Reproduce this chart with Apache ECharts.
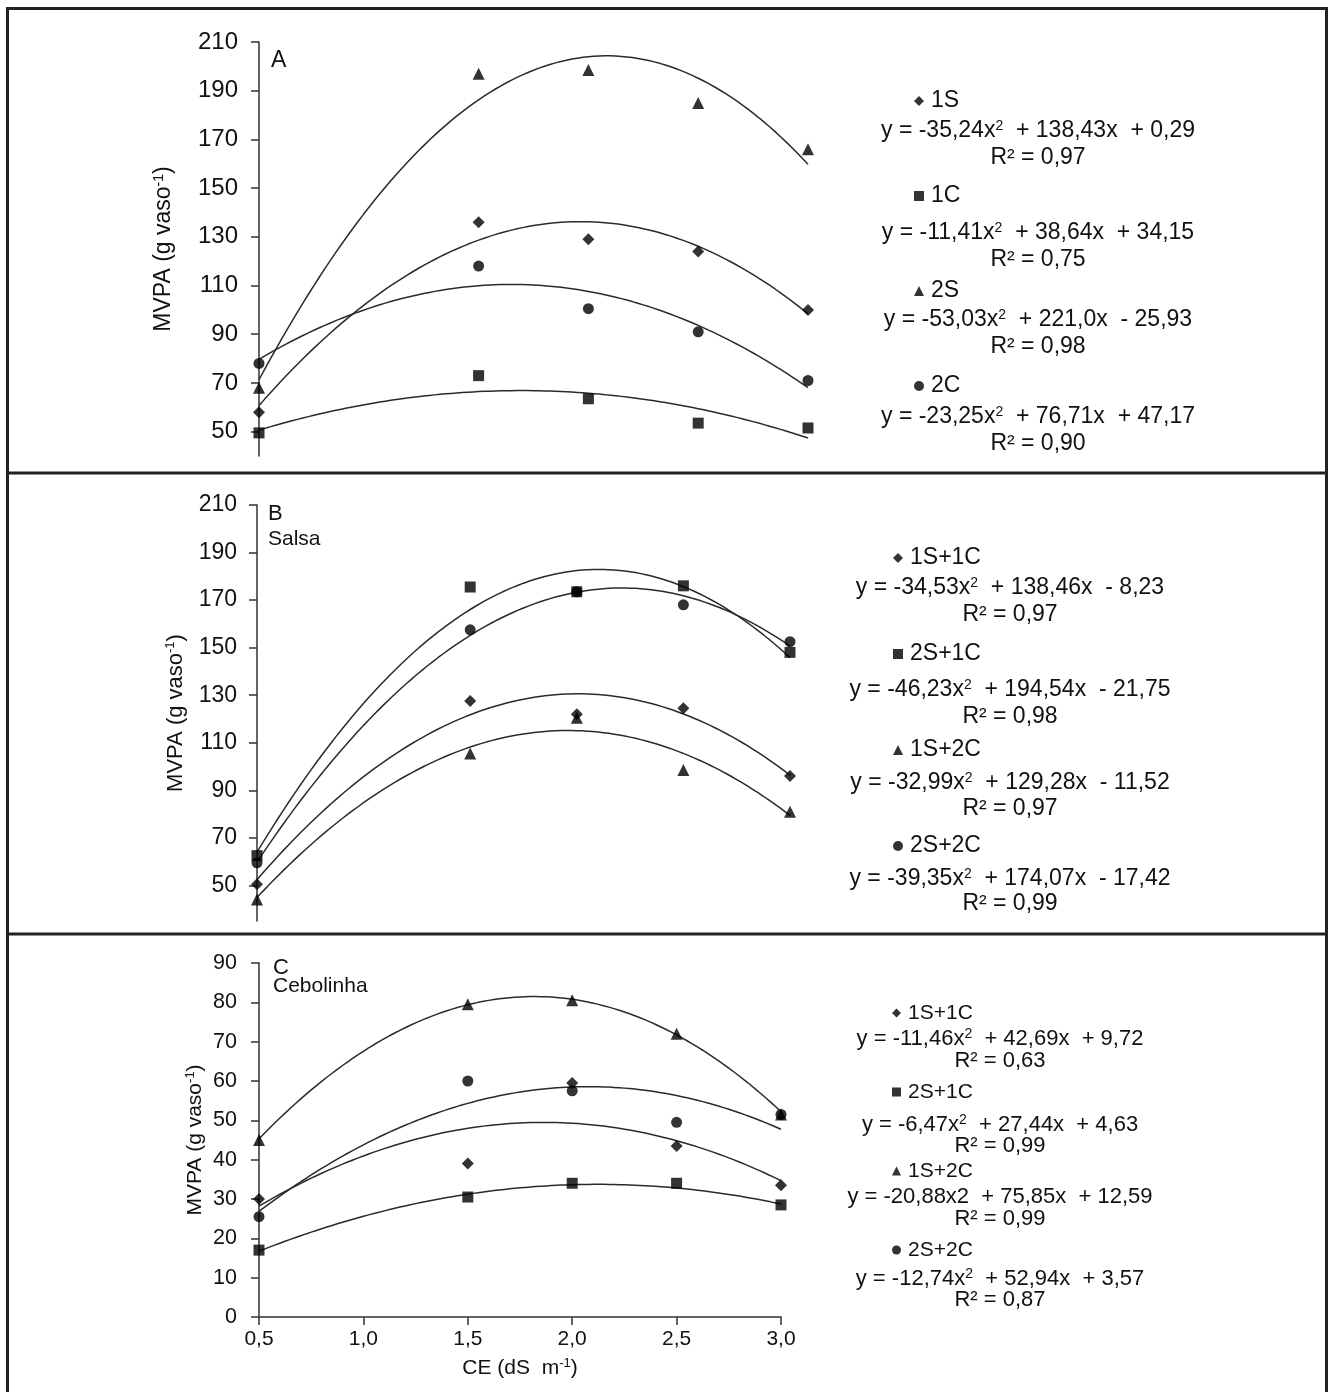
<!DOCTYPE html>
<html><head><meta charset="utf-8">
<script src="https://cdn.jsdelivr.net/npm/echarts@6/dist/echarts.min.js"></script>
<style>html,body{margin:0;padding:0;background:#fff}#c{width:1333px;height:1392px}</style>
</head><body><div id="c"></div><script>
// ---------- DATA ----------
const xValues = [0.5, 1.5, 2.0, 2.5, 3.0];
const xTickLabels = ['0,5', '1,0', '1,5', '2,0', '2,5', '3,0'];

// Panel A
const namesA = ['1S', '1C', '2S', '2C'];
const a1S = [58, 136, 129, 124, 100];
const a1C = [49.5, 73, 63.5, 53.5, 51.5];
const a2S = [68, 197, 198.5, 185, 166];
const a2C = [78, 118, 100.5, 91, 71];
const fitA1S = [-35.24, 138.43, 0.29];
const fitA1C = [-11.41, 38.64, 34.15];
const fitA2S = [-53.03, 221.0, -25.93];
const fitA2C = [-23.25, 76.71, 47.17];
const eqA = ['y = -35,24x^  + 138,43x  + 0,29', 'y = -11,41x^  + 38,64x  + 34,15', 'y = -53,03x^  + 221,0x  - 25,93', 'y = -23,25x^  + 76,71x  + 47,17'];
const r2A = ['R² = 0,97', 'R² = 0,75', 'R² = 0,98', 'R² = 0,90'];
const yTicksA = [50, 70, 90, 110, 130, 150, 170, 190, 210];

// Panel B (Salsa)
const namesB = ['1S+1C', '2S+1C', '1S+2C', '2S+2C'];
const b1S1C = [50.5, 127.5, 122, 124.5, 96];
const b2S1C = [62.5, 175.5, 173.5, 176, 148];
const b1S2C = [44, 105.5, 120.5, 98.5, 81];
const b2S2C = [59.5, 157.5, 173.5, 168, 152.5];
const fitB1S1C = [-34.53, 138.46, -8.23];
const fitB2S1C = [-46.23, 194.54, -21.75];
const fitB1S2C = [-32.99, 129.28, -11.52];
const fitB2S2C = [-39.35, 174.07, -17.42];
const eqB = ['y = -34,53x^  + 138,46x  - 8,23', 'y = -46,23x^  + 194,54x  - 21,75', 'y = -32,99x^  + 129,28x  - 11,52', 'y = -39,35x^  + 174,07x  - 17,42'];
const r2B = ['R² = 0,97', 'R² = 0,98', 'R² = 0,97', 'R² = 0,99'];
const yTicksB = [50, 70, 90, 110, 130, 150, 170, 190, 210];

// Panel C (Cebolinha)
const namesC = ['1S+1C ', '2S+1C ', '1S+2C ', '2S+2C '];
const c1S1C = [30, 39, 59.5, 43.5, 33.5];
const c2S1C = [17, 30.5, 34, 34, 28.5];
const c1S2C = [45, 79.5, 80.5, 72, 51.5];
const c2S2C = [25.5, 60, 57.5, 49.5, 51.5];
const fitC1S1C = [-11.46, 42.69, 9.72];
const fitC2S1C = [-6.47, 27.44, 4.63];
const fitC1S2C = [-20.88, 75.85, 12.59];
const fitC2S2C = [-12.74, 52.94, 3.57];
const eqC = ['y = -11,46x^  + 42,69x  + 9,72', 'y = -6,47x^  + 27,44x  + 4,63', 'y = -20,88x2  + 75,85x  + 12,59', 'y = -12,74x^  + 52,94x  + 3,57'];
const r2C = ['R² = 0,63', 'R² = 0,99', 'R² = 0,99', 'R² = 0,87'];

// ---------- CHART ----------
const FF = '"Liberation Sans", Arial, sans-serif';
const symbols = ['diamond', 'rect', 'triangle', 'circle'];
const symSizes = [12, 11, 12, 11];

// trend line drawn from the printed regression coefficients
function fitCurve(c) {
  const pts = [];
  for (let i = 0; i <= 100; i++) {
    const x = 0.5 + i * 0.025;
    pts.push([x, c[0] * x * x + c[1] * x + c[2]]);
  }
  return pts;
}

const series = [];
function addPanel(gi, names, vals, fits) {
  fits.forEach((f, i) => {
    series.push({
      type: 'line', xAxisIndex: gi, yAxisIndex: gi, data: fitCurve(f),
      showSymbol: false, symbol: 'none', smooth: false, silent: true, z: 2,
      lineStyle: { color: '#2a2a2a', width: 1.5 }, name: 'fit' + gi + '_' + i
    });
  });
  vals.forEach((v, i) => {
    series.push({
      type: 'scatter', name: names[i], xAxisIndex: gi, yAxisIndex: gi,
      data: v.map((y, k) => [xValues[k], y]), symbol: symbols[i], symbolSize: symSizes[i],
      itemStyle: { color: '#000' }, z: 5, clip: false
    });
  });
}
addPanel(0, namesA, [a1S, a1C, a2S, a2C], [fitA1S, fitA1C, fitA2S, fitA2C]);
addPanel(1, namesB, [b1S1C, b2S1C, b1S2C, b2S2C], [fitB1S1C, fitB2S1C, fitB1S2C, fitB2S2C]);
addPanel(2, namesC, [c1S1C, c2S1C, c1S2C, c2S2C], [fitC1S1C, fitC2S1C, fitC1S2C, fitC2S2C]);

function yAxis(gi, min, max, ticks, fs, gap, nfs, margin) {
  const ax = {
    type: 'value', gridIndex: gi, min: min, max: max,
    name: '{n|MVPA (g vaso}{s|-1}{n|)}', nameLocation: 'middle', nameGap: gap, nameRotate: 90,
    nameTextStyle: { rich: { n: { fontSize: nfs, fontFamily: FF, color: '#111' }, s: { fontSize: Math.round(nfs * 0.6), fontFamily: FF, color: '#111', padding: [0, 0, 10, 0] } } },
    axisLine: { show: true, onZero: false, lineStyle: { color: '#333', width: 1.5 } },
    axisTick: { show: true, length: 8, lineStyle: { color: '#333', width: 1.5 } },
    axisLabel: { fontSize: fs, fontFamily: FF, color: '#111', margin: margin },
    splitLine: { show: false }
  };
  if (ticks) {
    ax.axisTick.customValues = ticks;
    ax.axisLabel.customValues = ticks;
  } else {
    ax.interval = 10;
  }
  return ax;
}
function hiddenX(gi) {
  return { type: 'value', gridIndex: gi, min: 0.5, max: 3.0, show: true,
    axisLine: { show: false }, axisTick: { show: false }, axisLabel: { show: false }, splitLine: { show: false } };
}

function legend(names, left, top, fs, lh, gap, size) {
  return {
    data: names, orient: 'vertical', left: left, top: top, padding: 0,
    itemWidth: size, itemHeight: size, itemGap: gap, selectedMode: false,
    textStyle: { fontSize: fs, fontFamily: FF, color: '#111', lineHeight: lh, padding: [0, 0, 0, 2] }
  };
}

// equation text; '^' marks a superscript 2
function texts(list, cx, ys, fs) {
  return list.map((t, i) => {
    const parts = t.split('^');
    const rt = parts.map(p => '{n|' + p + '}').join('{s|2}');
    return {
      type: 'text', x: cx, y: ys[i], z: 10,
      style: {
        text: rt, fill: '#111', align: 'center', verticalAlign: 'middle', textAlign: 'center', textVerticalAlign: 'middle',
        rich: {
          n: { fontSize: fs, fontFamily: FF, fill: '#111', color: '#111' },
          s: { fontSize: Math.round(fs * 0.62), fontFamily: FF, fill: '#111', color: '#111', padding: [0, 0, Math.round(fs * 0.42), 0] }
        }
      }
    };
  });
}
function label(t, x, y, fs) {
  return { type: 'text', x: x, y: y, z: 10,
    style: { text: t, fontSize: fs, fontFamily: FF, fill: '#111', align: 'left', verticalAlign: 'middle', textAlign: 'left', textVerticalAlign: 'middle' } };
}

const graphic = [
  { type: 'rect', z: 20, shape: { x: 7.5, y: 8.5, width: 1319, height: 1400 }, style: { fill: 'none', stroke: '#222', lineWidth: 3 } },
  { type: 'line', z: 20, shape: { x1: 7, y1: 473, x2: 1327, y2: 473 }, style: { stroke: '#222', lineWidth: 3 } },
  { type: 'line', z: 20, shape: { x1: 7, y1: 934, x2: 1327, y2: 934 }, style: { stroke: '#222', lineWidth: 3 } },
  label('A', 271, 61, 23),
  label('B', 268, 514, 22),
  label('Salsa', 268, 539, 21),
  label('C', 273, 968, 22),
  label('Cebolinha', 273, 986, 21),
  ...texts(eqA, 1038, [131, 233, 320, 417], 23),
  ...texts(r2A, 1038, [158, 260, 347, 444], 23),
  ...texts(eqB, 1010, [588, 690, 783, 879], 23),
  ...texts(r2B, 1010, [615, 717, 809, 904], 23),
  ...texts(eqC, 1000, [1039, 1125, 1197, 1279], 22),
  ...texts(r2C, 1000, [1061, 1146, 1219, 1300], 22)
];

const option = {
  backgroundColor: '#fff',
  animation: false,
  grid: [
    { left: 259, top: 42, width: 549, height: 414 },
    { left: 257, top: 505, width: 533, height: 416 },
    { left: 259, top: 963, width: 522, height: 354 }
  ],
  xAxis: [
    hiddenX(0),
    hiddenX(1),
    { type: 'value', gridIndex: 2, min: 0.5, max: 3.0, interval: 0.5,
      name: '{n|CE (dS  m}{s|-1}{n|)}', nameLocation: 'middle', nameGap: 40,
      nameTextStyle: { rich: { n: { fontSize: 21, fontFamily: FF, color: '#111' }, s: { fontSize: 13, fontFamily: FF, color: '#111', padding: [0, 0, 10, 0] } } },
      axisLine: { show: true, onZero: false, lineStyle: { color: '#333', width: 1.5 } },
      axisTick: { show: true, length: 8, lineStyle: { color: '#333', width: 1.5 } },
      axisLabel: { fontSize: 21, fontFamily: FF, color: '#111', margin: 12,
        formatter: v => xTickLabels[Math.round((v - 0.5) / 0.5)] },
      splitLine: { show: false } }
  ],
  yAxis: [
    yAxis(0, 40, 210, yTicksA, 24, 83, 23, 21),
    yAxis(1, 35, 210, yTicksB, 23, 70, 22, 20),
    yAxis(2, 0, 90, null, 21.5, 52, 21, 22)
  ],
  legend: [
    legend(namesA, 914, 89, 23, 24, 71, 10),
    legend(namesB, 893, 546, 23, 24, 72, 10),
    legend(namesC, 892, 1002, 21, 22, 57, 9)
  ],
  graphic: graphic,
  series: series
};
const chart = echarts.init(document.getElementById('c'), null, { renderer: 'canvas' });
chart.setOption(option);
</script></body></html>
